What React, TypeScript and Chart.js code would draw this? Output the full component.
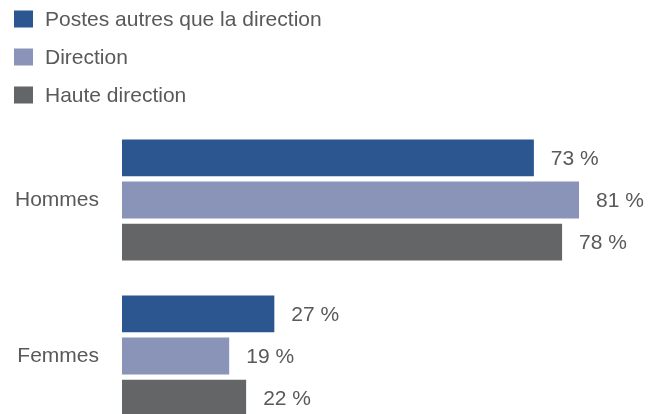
import React, { useEffect, useRef } from "react";
import { Chart, registerables } from "chart.js";

Chart.register(...registerables);

const categories = ["Hommes", "Femmes"];
const seriesNames = ["Postes autres que la direction", "Direction", "Haute direction"];
const postesAutres = [73, 27];
const direction = [81, 19];
const hauteDirection = [78, 22];

const COLORS = ["#2C5690", "#8A94B9", "#646567"];
const TEXT = "#58595B";
const FAMILY = '"Liberation Sans", Arial, Helvetica, sans-serif';
const FONT_SIZE = 21;

const legendPlugin = {
  id: "stackedLegend",
  afterDraw(chart: any) {
    const ctx = chart.ctx;
    ctx.save();
    ctx.font = `${FONT_SIZE}px ${FAMILY}`;
    ctx.textBaseline = "middle";
    ctx.textAlign = "left";
    chart.data.datasets.forEach((ds: any, i: number) => {
      const top = 10.5 + i * 38;
      ctx.fillStyle = ds.backgroundColor;
      ctx.fillRect(14, top, 19, 17);
      ctx.fillStyle = TEXT;
      ctx.fillText(ds.label, 45, top + 9.5);
    });
    ctx.restore();
  },
};

const valueLabelPlugin = {
  id: "valueLabels",
  afterDatasetsDraw(chart: any) {
    const ctx = chart.ctx;
    ctx.save();
    ctx.font = `${FONT_SIZE}px ${FAMILY}`;
    ctx.textBaseline = "middle";
    ctx.textAlign = "left";
    ctx.fillStyle = TEXT;
    chart.data.datasets.forEach((ds: any, di: number) => {
      const meta = chart.getDatasetMeta(di);
      meta.data.forEach((bar: any, i: number) => {
        ctx.fillText(`${ds.data[i]} %`, bar.x + 17, bar.y + 1);
      });
    });
    ctx.restore();
  },
};

export default function App() {
  const ref = useRef<HTMLCanvasElement | null>(null);

  useEffect(() => {
    if (!ref.current) return;
    const seriesValues = [postesAutres, direction, hauteDirection];
    const chart = new Chart(ref.current, {
      type: "bar",
      data: {
        labels: categories,
        datasets: seriesNames.map((name, i) => ({
          label: name,
          data: seriesValues[i],
          backgroundColor: COLORS[i],
          borderWidth: 0,
          barPercentage: 0.875,
          categoryPercentage: 0.8077,
        })),
      },
      options: {
        indexAxis: "y",
        animation: false,
        responsive: false,
        maintainAspectRatio: false,
        layout: { padding: { top: 122, bottom: 6, left: 0, right: 0 } },
        plugins: {
          legend: { display: false },
          tooltip: { enabled: false },
        },
        scales: {
          x: { display: false, min: 0, max: 95 },
          y: {
            grid: { display: false, drawTicks: false },
            border: { display: false },
            ticks: {
              color: TEXT,
              font: { size: FONT_SIZE, family: FAMILY },
              padding: 23,
            },
            afterFit(axis: any) {
              axis.width = 122;
              axis.paddingTop = 0;
              axis.paddingBottom = 0;
            },
          },
        },
      },
      plugins: [legendPlugin, valueLabelPlugin],
    });
    return () => chart.destroy();
  }, []);

  return (
    <div
      style={{
        position: "fixed",
        left: 0,
        top: 0,
        width: 658,
        height: 414,
        overflow: "hidden",
        background: "#fff",
      }}
    >
      <canvas ref={ref} width={658} height={440} style={{ width: 658, height: 440, display: "block" }} />
    </div>
  );
}
